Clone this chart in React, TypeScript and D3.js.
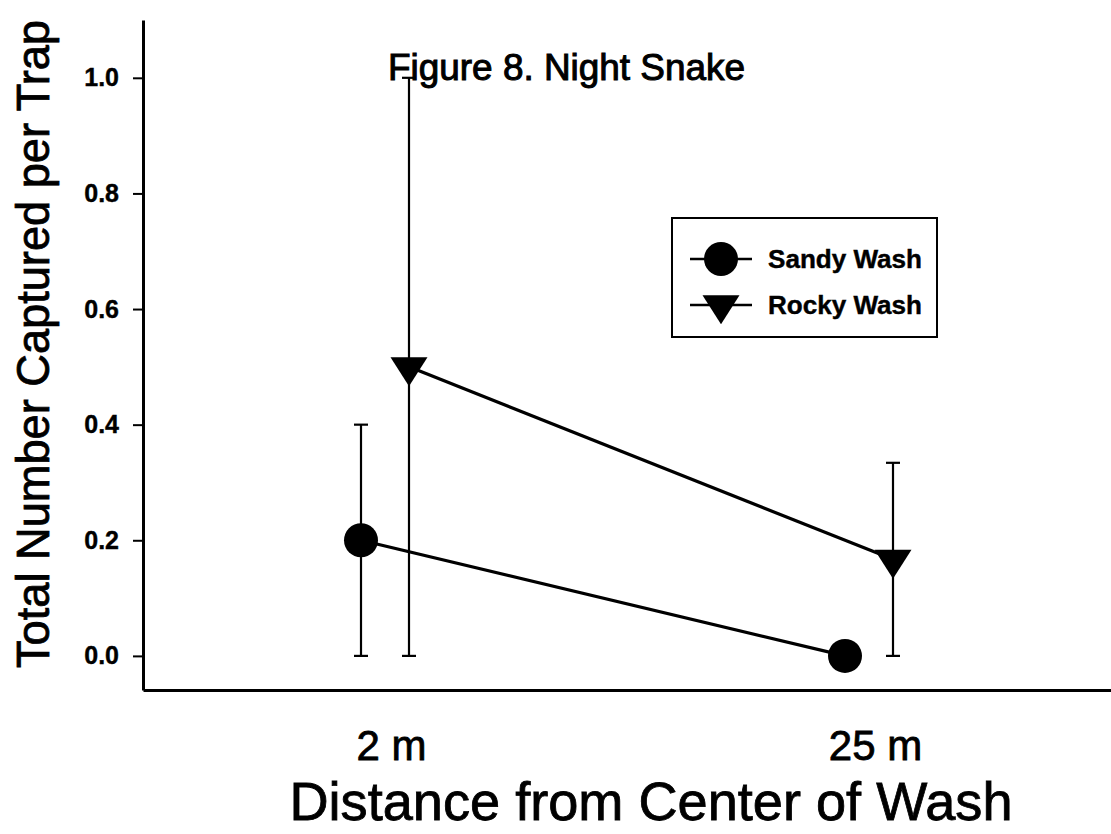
import React, { useEffect, useRef } from "react";
import * as d3 from "d3";

const categories = ["2 m", "25 m"];
const seriesNames = ["Sandy Wash", "Rocky Wash"];
const sandyMeans = [0.2, 0.0];
const sandyErrors = [0.2, 0.0];
const rockyMeans = [0.5, 0.167];
const rockyErrors = [0.5, 0.167];
const yTicks = [0, 0.2, 0.4, 0.6, 0.8, 1.0];
const chartTitle = "Figure 8. Night Snake";
const xTitle = "Distance from Center of Wash";
const yTitle = "Total Number Captured per Trap";

const W = 1111;
const H = 834;
const FONT = "'Liberation Sans', Arial, sans-serif";

export default function App() {
  const ref = useRef<SVGSVGElement>(null);

  useEffect(() => {
    const svg = d3.select(ref.current);
    svg.selectAll("*").remove();

    const axisX = 143;
    const axisY = 690;
    const y = d3.scaleLinear().domain([-0.059, 1.1]).range([axisY, 20]);
    const x = d3.scalePoint<string>().domain(categories).range([axisX, W]).padding(0.5);
    const off = d3.scalePoint<string>().domain(seriesNames).range([-24, 24]);

    const series = [
      { name: seriesNames[0], means: sandyMeans, errs: sandyErrors, marker: "circle" },
      { name: seriesNames[1], means: rockyMeans, errs: rockyErrors, marker: "triangle" },
    ];

    const triPath = (s: number) =>
      (d3.line()([
        [-18.5 * s, -9.7 * s],
        [18.5 * s, -9.7 * s],
        [0, 19.3 * s],
      ]) as string) + "Z";

    // Y axis
    const yAxis = svg
      .append("g")
      .attr("transform", `translate(${axisX},0)`)
      .call(
        d3
          .axisLeft(y)
          .tickValues(yTicks)
          .tickSize(10)
          .tickSizeOuter(0)
          .tickPadding(14)
          .tickFormat(d3.format(".1f") as any)
      );
    yAxis.select(".domain").attr("stroke", "#000").attr("stroke-width", 3);
    yAxis.selectAll(".tick line").attr("stroke", "#000").attr("stroke-width", 2);
    yAxis
      .selectAll(".tick text")
      .attr("fill", "#000")
      .attr("stroke", "#000")
      .attr("stroke-width", 0.4)
      .attr("font-family", FONT)
      .attr("font-weight", "bold")
      .attr("font-size", 25);

    // X axis
    const xAxis = svg
      .append("g")
      .attr("transform", `translate(0,${axisY})`)
      .call(d3.axisBottom(x).tickSize(0).tickSizeOuter(0).tickPadding(40));
    xAxis.select(".domain").attr("stroke", "#000").attr("stroke-width", 3);
    xAxis
      .selectAll(".tick text")
      .attr("fill", "#000")
      .attr("stroke", "#000")
      .attr("stroke-width", 0.8)
      .attr("font-family", FONT)
      .attr("font-size", 42)
      .attr("dx", 6);

    // error bars
    const capW = 7;
    series.forEach((s) => {
      categories.forEach((c, i) => {
        const e = s.errs[i];
        if (e <= 0) return;
        const cx = (x(c) as number) + (off(s.name) as number);
        const lo = y(Math.max(0, s.means[i] - e));
        const hi = y(s.means[i] + e);
        const g = svg.append("g").attr("stroke", "#000").attr("stroke-width", 2.2);
        g.append("line").attr("x1", cx).attr("x2", cx).attr("y1", lo).attr("y2", hi);
        g.append("line").attr("x1", cx - capW).attr("x2", cx + capW).attr("y1", lo).attr("y2", lo);
        g.append("line").attr("x1", cx - capW).attr("x2", cx + capW).attr("y1", hi).attr("y2", hi);
      });
    });

    // lines
    series.forEach((s) => {
      const pts: [number, number][] = categories.map((c, i) => [
        (x(c) as number) + (off(s.name) as number),
        y(s.means[i]),
      ]);
      svg
        .append("path")
        .attr("d", d3.line()(pts) as string)
        .attr("fill", "none")
        .attr("stroke", "#000")
        .attr("stroke-width", 3.2);
    });

    // markers
    series.forEach((s) => {
      categories.forEach((c, i) => {
        const cx = (x(c) as number) + (off(s.name) as number);
        const cy = y(s.means[i]);
        if (s.marker === "circle") {
          svg.append("circle").attr("cx", cx).attr("cy", cy).attr("r", 17).attr("fill", "#000");
        } else {
          svg
            .append("path")
            .attr("d", triPath(1))
            .attr("transform", `translate(${cx},${cy})`)
            .attr("fill", "#000");
        }
      });
    });

    // title
    svg
      .append("text")
      .attr("x", 388)
      .attr("y", 80)
      .attr("font-family", FONT)
      .attr("font-size", 36)
      .attr("textLength", 357)
      .attr("lengthAdjust", "spacingAndGlyphs")
      .attr("fill", "#000")
      .attr("stroke", "#000")
      .attr("stroke-width", 1)
      .text(chartTitle);

    // axis titles
    svg
      .append("text")
      .attr("x", 651)
      .attr("y", 820)
      .attr("text-anchor", "middle")
      .attr("font-family", FONT)
      .attr("font-size", 53)
      .attr("textLength", 723)
      .attr("lengthAdjust", "spacingAndGlyphs")
      .attr("fill", "#000")
      .attr("stroke", "#000")
      .attr("stroke-width", 0.8)
      .text(xTitle);

    svg
      .append("text")
      .attr("transform", `translate(49,344) rotate(-90)`)
      .attr("text-anchor", "middle")
      .attr("font-family", FONT)
      .attr("font-size", 46)
      .attr("textLength", 648)
      .attr("lengthAdjust", "spacingAndGlyphs")
      .attr("fill", "#000")
      .attr("stroke", "#000")
      .attr("stroke-width", 0.8)
      .text(yTitle);

    // legend
    const leg = svg.append("g");
    leg
      .append("rect")
      .attr("x", 672)
      .attr("y", 218)
      .attr("width", 265)
      .attr("height", 119)
      .attr("fill", "#fff")
      .attr("stroke", "#000")
      .attr("stroke-width", 2);
    const legY = d3.scalePoint<string>().domain(seriesNames).range([259, 305]);
    series.forEach((s) => {
      const ly = legY(s.name) as number;
      leg
        .append("line")
        .attr("x1", 690)
        .attr("x2", 752)
        .attr("y1", ly)
        .attr("y2", ly)
        .attr("stroke", "#000")
        .attr("stroke-width", 2.5);
      if (s.marker === "circle") {
        leg.append("circle").attr("cx", 721).attr("cy", ly).attr("r", 17).attr("fill", "#000");
      } else {
        leg
          .append("path")
          .attr("d", triPath(1))
          .attr("transform", `translate(721,${ly})`)
          .attr("fill", "#000");
      }
      leg
        .append("text")
        .attr("x", 768)
        .attr("y", ly)
        .attr("dy", "0.36em")
        .attr("font-family", FONT)
        .attr("font-weight", "bold")
        .attr("font-size", 25)
        .attr("textLength", 154)
        .attr("lengthAdjust", "spacingAndGlyphs")
        .attr("fill", "#000")
        .attr("stroke", "#000")
        .attr("stroke-width", 0.4)
        .text(s.name);
    });
  }, []);

  return (
    <svg
      ref={ref}
      width={W}
      height={H}
      style={{ position: "absolute", left: 0, top: 0, background: "#fff" }}
    />
  );
}
